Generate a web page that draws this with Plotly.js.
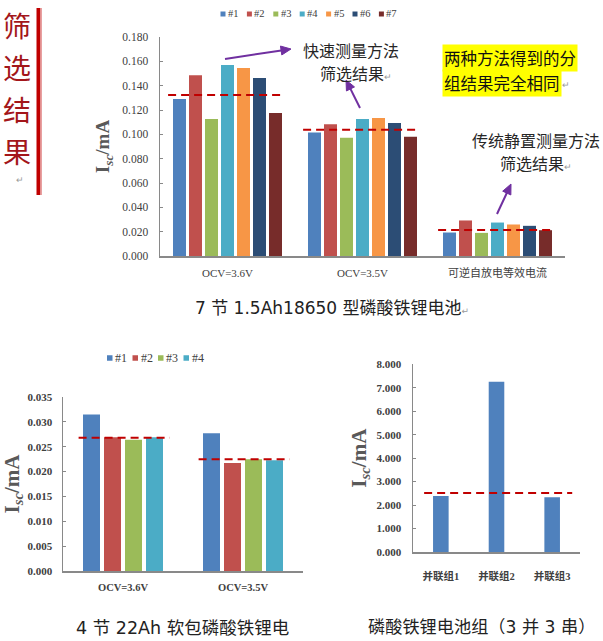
<!DOCTYPE html>
<html><head><meta charset="utf-8">
<script src="https://cdn.plot.ly/plotly-3.0.1.min.js"></script>
<style>html,body{margin:0;padding:0;background:#fff}#chart{width:603px;height:641px}</style>
</head><body><div id="chart"></div>
<script>
// ================= DATA =================
// Top chart: 7 x 1.5Ah 18650 LFP cells
const topCategories = ['OCV=3.6V', 'OCV=3.5V', '可逆自放电等效电流'];
const topSeriesNames = ['#1', '#2', '#3', '#4', '#5', '#6', '#7'];
const topS1 = [0.1290, 0.1016, 0.0193];
const topS2 = [0.1486, 0.1082, 0.0292];
const topS3 = [0.1126, 0.0972, 0.0190];
const topS4 = [0.1570, 0.1126, 0.0275];
const topS5 = [0.1546, 0.1134, 0.0259];
const topS6 = [0.1464, 0.1093, 0.0248];
const topS7 = [0.1175, 0.0980, 0.0212];
const topThresholds = [0.1324, 0.1038, 0.0214];
const topTickVals = [0, 0.02, 0.04, 0.06, 0.08, 0.10, 0.12, 0.14, 0.16, 0.18];

// Bottom-left chart: 4 x 22Ah pouch LFP cells
const pouchCategories = ['OCV=3.6V', 'OCV=3.5V'];
const pouchSeriesNames = ['#1', '#2', '#3', '#4'];
const pouchS1 = [0.0315, 0.0277];
const pouchS2 = [0.0269, 0.0217];
const pouchS3 = [0.0264, 0.0225];
const pouchS4 = [0.0269, 0.0223];
const pouchThresholds = [0.0268, 0.0225];
const pouchTickVals = [0, 0.005, 0.010, 0.015, 0.020, 0.025, 0.030, 0.035];

// Bottom-right chart: LFP pack (3P3S)
const packCategories = ['并联组1', '并联组2', '并联组3'];
const packValues = [2.39, 7.26, 2.33];
const packThreshold = 2.51;
const packTickVals = [0, 1, 2, 3, 4, 5, 6, 7, 8];

// Texts
const sideTitle = '筛选结果';
const topCaption = '7 节 1.5Ah18650 型磷酸铁锂电池';
const pouchCaption = '4 节 22Ah 软包磷酸铁锂电';
const packCaption = '磷酸铁锂电池组（3 并 3 串）';
const noteFast = ['快速测量方法', '筛选结果'];
const noteStatic = ['传统静置测量方法', '筛选结果'];
const noteSame = ['两种方法得到的分', '组结果完全相同'];

// ================= STYLE =================
const W = 603, H = 641;
const px = x => x / W;
const py = y => 1 - y / H;
const colors = ['#4f81bd', '#c0504d', '#9bbb59', '#4bacc6', '#f79646', '#2c4d75', '#772c2a'];
const serif = 'Liberation Serif, Noto Sans CJK SC, serif';
const cjk = 'Noto Sans CJK SC, sans-serif';
const capFont = 'DejaVu Sans, Noto Sans CJK SC, sans-serif';
const axisGray = '#898989';
const textGray = '#404040';
const dashRed = {color: '#c00000', width: 2, dash: '8px,5px'};
const purple = '#7030a0';
const ret = '<span style="color:#9a9a9a;font-size:9px">↵</span>';
const ytitle = '<b>I<sub><i>sc</i></sub>/mA</b>';

const traces = [];
const topSeries = [topS1, topS2, topS3, topS4, topS5, topS6, topS7];
const topPitch = 16 / 135, topW = 13 / 135;
topSeries.forEach((vals, i) => {
  traces.push({
    type: 'bar', x: topCategories, y: vals, name: topSeriesNames[i],
    xaxis: 'x', yaxis: 'y', marker: {color: colors[i]},
    width: topW, offset: (i - 3) * topPitch - topW / 2, hoverinfo: 'y+name'
  });
});
const pouchSeries = [pouchS1, pouchS2, pouchS3, pouchS4];
const pPitch = 21 / 120, pW = 17 / 120;
pouchSeries.forEach((vals, i) => {
  traces.push({
    type: 'bar', x: pouchCategories, y: vals, name: pouchSeriesNames[i],
    xaxis: 'x2', yaxis: 'y2', marker: {color: colors[i]},
    width: pW, offset: (i - 1.5) * pPitch - pW / 2, hoverinfo: 'y+name'
  });
});
traces.push({
  type: 'bar', x: packCategories, y: packValues, name: 'pack',
  xaxis: 'x3', yaxis: 'y3', marker: {color: colors[0]},
  width: 0.28, offset: -0.14
});

const baseAxis = {showline: true, linecolor: axisGray, linewidth: 1.5, showgrid: false, zeroline: false, fixedrange: true};
const shapes = [];
const annotations = [];

topThresholds.forEach((v, i) => shapes.push({type: 'line', xref: 'x', yref: 'y', x0: i - 0.44, x1: i + 0.42, y0: v, y1: v, line: dashRed}));
pouchThresholds.forEach((v, i) => shapes.push({type: 'line', xref: 'x2', yref: 'y2', x0: i - 0.37, x1: i + 0.39, y0: v, y1: v, line: dashRed}));
shapes.push({type: 'line', xref: 'x3', yref: 'y3', x0: -0.30, x1: 2.36, y0: packThreshold, y1: packThreshold, line: dashRed});

// legends (drawn from series names)
function legend(names, x0, pitch, yc, sq, fs) {
  names.forEach((n, i) => {
    const x = x0 + i * pitch;
    shapes.push({type: 'rect', xref: 'paper', yref: 'paper', x0: px(x), x1: px(x + sq), y0: py(yc + sq / 2), y1: py(yc - sq / 2), fillcolor: colors[i], line: {width: 0}});
    annotations.push({xref: 'paper', yref: 'paper', x: px(x + sq + 0.5), y: py(yc), xanchor: 'left', yanchor: 'middle', showarrow: false, text: n, font: {family: serif, size: fs, color: textGray}});
  });
}
legend(topSeriesNames, 220.5, 26.4, 14, 5, 10.5);
legend(pouchSeriesNames, 107, 25.5, 358, 5.5, 12);

// side title and bar
[...sideTitle].forEach((ch, i) => annotations.push({xref: 'paper', yref: 'paper', x: px(16.5), y: py(25 + i * 42), xanchor: 'center', yanchor: 'middle', showarrow: false, text: ch, font: {family: cjk, size: 28, color: '#a3161a'}}));
annotations.push({xref: 'paper', yref: 'paper', x: px(14), y: py(171), showarrow: false, text: ret, font: {family: cjk, size: 9}});
shapes.push({type: 'rect', xref: 'paper', yref: 'paper', x0: px(36.5), x1: px(40.5), y0: py(195), y1: py(8), fillcolor: '#c00000', line: {width: 0}});
shapes.push({type: 'rect', xref: 'paper', yref: 'paper', x0: px(40.5), x1: px(42), y0: py(195), y1: py(8), fillcolor: '#e8a0a0', line: {width: 0}});

// notes
const noteFont = {family: cjk, size: 16, color: '#262626'};
annotations.push({xref: 'paper', yref: 'paper', x: px(351), y: py(50), xanchor: 'center', yanchor: 'middle', showarrow: false, text: noteFast[0], font: noteFont});
annotations.push({xref: 'paper', yref: 'paper', x: px(356), y: py(73), xanchor: 'center', yanchor: 'middle', showarrow: false, text: noteFast[1] + ret, font: noteFont});
annotations.push({xref: 'paper', yref: 'paper', x: px(536), y: py(140), xanchor: 'center', yanchor: 'middle', showarrow: false, text: noteStatic[0], font: noteFont});
annotations.push({xref: 'paper', yref: 'paper', x: px(536), y: py(163), xanchor: 'center', yanchor: 'middle', showarrow: false, text: noteStatic[1] + ret, font: noteFont});
annotations.push({xref: 'paper', yref: 'paper', x: px(442), y: py(58), xanchor: 'left', yanchor: 'middle', showarrow: false, text: noteSame[0], font: {family: cjk, size: 16.5, color: '#111'}, bgcolor: '#ffff00', borderpad: 1});
annotations.push({xref: 'paper', yref: 'paper', x: px(442), y: py(83), xanchor: 'left', yanchor: 'middle', showarrow: false, text: noteSame[1], font: {family: cjk, size: 16.5, color: '#111'}, bgcolor: '#ffff00', borderpad: 1});
annotations.push({xref: 'paper', yref: 'paper', x: px(560), y: py(85), xanchor: 'left', yanchor: 'middle', showarrow: false, text: ret, font: {family: cjk, size: 9}});

// arrows drawn as line + triangular head (paper coordinates)
function arrow(tx, ty, hx, hy) {
  const dx = hx - tx, dy = hy - ty, len = Math.hypot(dx, dy);
  const ux = dx / len, uy = dy / len, nx = -uy, ny = ux;
  const L = 10, w = 4.5;
  const bx = hx - ux * L, by = hy - uy * L;
  shapes.push({type: 'line', xref: 'paper', yref: 'paper', x0: px(tx), y0: py(ty), x1: px(bx + ux * 2), y1: py(by + uy * 2), line: {color: purple, width: 2}});
  const p = `M${px(hx)},${py(hy)} L${px(bx + nx * w)},${py(by + ny * w)} L${px(bx - nx * w)},${py(by - ny * w)} Z`;
  shapes.push({type: 'path', xref: 'paper', yref: 'paper', path: p, fillcolor: purple, line: {color: purple, width: 1}});
}
arrow(225, 59, 291, 49);
arrow(360, 108, 346, 80);
arrow(497, 214, 511, 184);

// captions
annotations.push({xref: 'paper', yref: 'paper', x: px(193), y: py(308), xanchor: 'left', yanchor: 'middle', showarrow: false, text: topCaption + ret, font: {family: capFont, size: 17, color: '#222'}});
annotations.push({xref: 'paper', yref: 'paper', x: px(74), y: py(628), xanchor: 'left', yanchor: 'middle', showarrow: false, text: pouchCaption, font: {family: capFont, size: 17.5, color: '#222'}});
annotations.push({xref: 'paper', yref: 'paper', x: px(366), y: py(627), xanchor: 'left', yanchor: 'middle', showarrow: false, text: packCaption, font: {family: capFont, size: 17.2, color: '#222'}});

const layout = {
  width: W, height: H, margin: {l: 0, r: 0, t: 0, b: 0},
  paper_bgcolor: '#ffffff', plot_bgcolor: 'rgba(0,0,0,0)',
  showlegend: false, barmode: 'group',
  xaxis: Object.assign({}, baseAxis, {
    domain: [px(160), px(565)], anchor: 'y', type: 'category', range: [-0.5, 2.5], ticks: '',
    tickfont: {family: serif, size: 11, color: textGray}, ticklabelstandoff: 6
  }),
  yaxis: Object.assign({}, baseAxis, {
    domain: [py(256), py(37)], anchor: 'x', range: [0, 0.18], tickvals: topTickVals, tickformat: '.3f',
    ticks: 'inside', ticklen: 3, tickcolor: axisGray, tickwidth: 1,
    tickfont: {family: serif, size: 11.5, color: textGray}, ticklabelstandoff: 8,
    title: {text: ytitle, font: {family: serif, size: 19, color: '#595959'}, standoff: 7}
  }),
  xaxis2: Object.assign({}, baseAxis, {
    domain: [px(63), px(303)], anchor: 'y2', type: 'category', range: [-0.5, 1.5], ticks: '',
    tickfont: {family: serif, size: 10.5, color: textGray, weight: 'bold'}, ticklabelstandoff: 6
  }),
  yaxis2: Object.assign({}, baseAxis, {
    domain: [py(571), py(397)], anchor: 'x2', range: [0, 0.035], tickvals: pouchTickVals, tickformat: '.3f',
    ticks: 'inside', ticklen: 3, tickcolor: axisGray, tickwidth: 1,
    tickfont: {family: serif, size: 11, color: textGray, weight: 'bold'}, ticklabelstandoff: 7,
    title: {text: ytitle, font: {family: serif, size: 21, color: '#595959'}, standoff: 2}
  }),
  xaxis3: Object.assign({}, baseAxis, {
    domain: [px(413), px(580)], anchor: 'y3', type: 'category', range: [-0.5, 2.5], ticks: '',
    tickfont: {family: serif, size: 10.5, color: textGray, weight: 'bold'}, ticklabelstandoff: 14
  }),
  yaxis3: Object.assign({}, baseAxis, {
    domain: [py(552), py(364.3)], anchor: 'x3', range: [0, 8], tickvals: packTickVals, tickformat: '.3f',
    ticks: 'inside', ticklen: 3, tickcolor: axisGray, tickwidth: 1,
    tickfont: {family: serif, size: 11, color: textGray, weight: 'bold'}, ticklabelstandoff: 8,
    title: {text: ytitle, font: {family: serif, size: 21, color: '#595959'}, standoff: 4}
  }),
  shapes: shapes,
  annotations: annotations
};

Plotly.newPlot('chart', traces, layout, {staticPlot: true, displayModeBar: false});
</script>
</body></html>
